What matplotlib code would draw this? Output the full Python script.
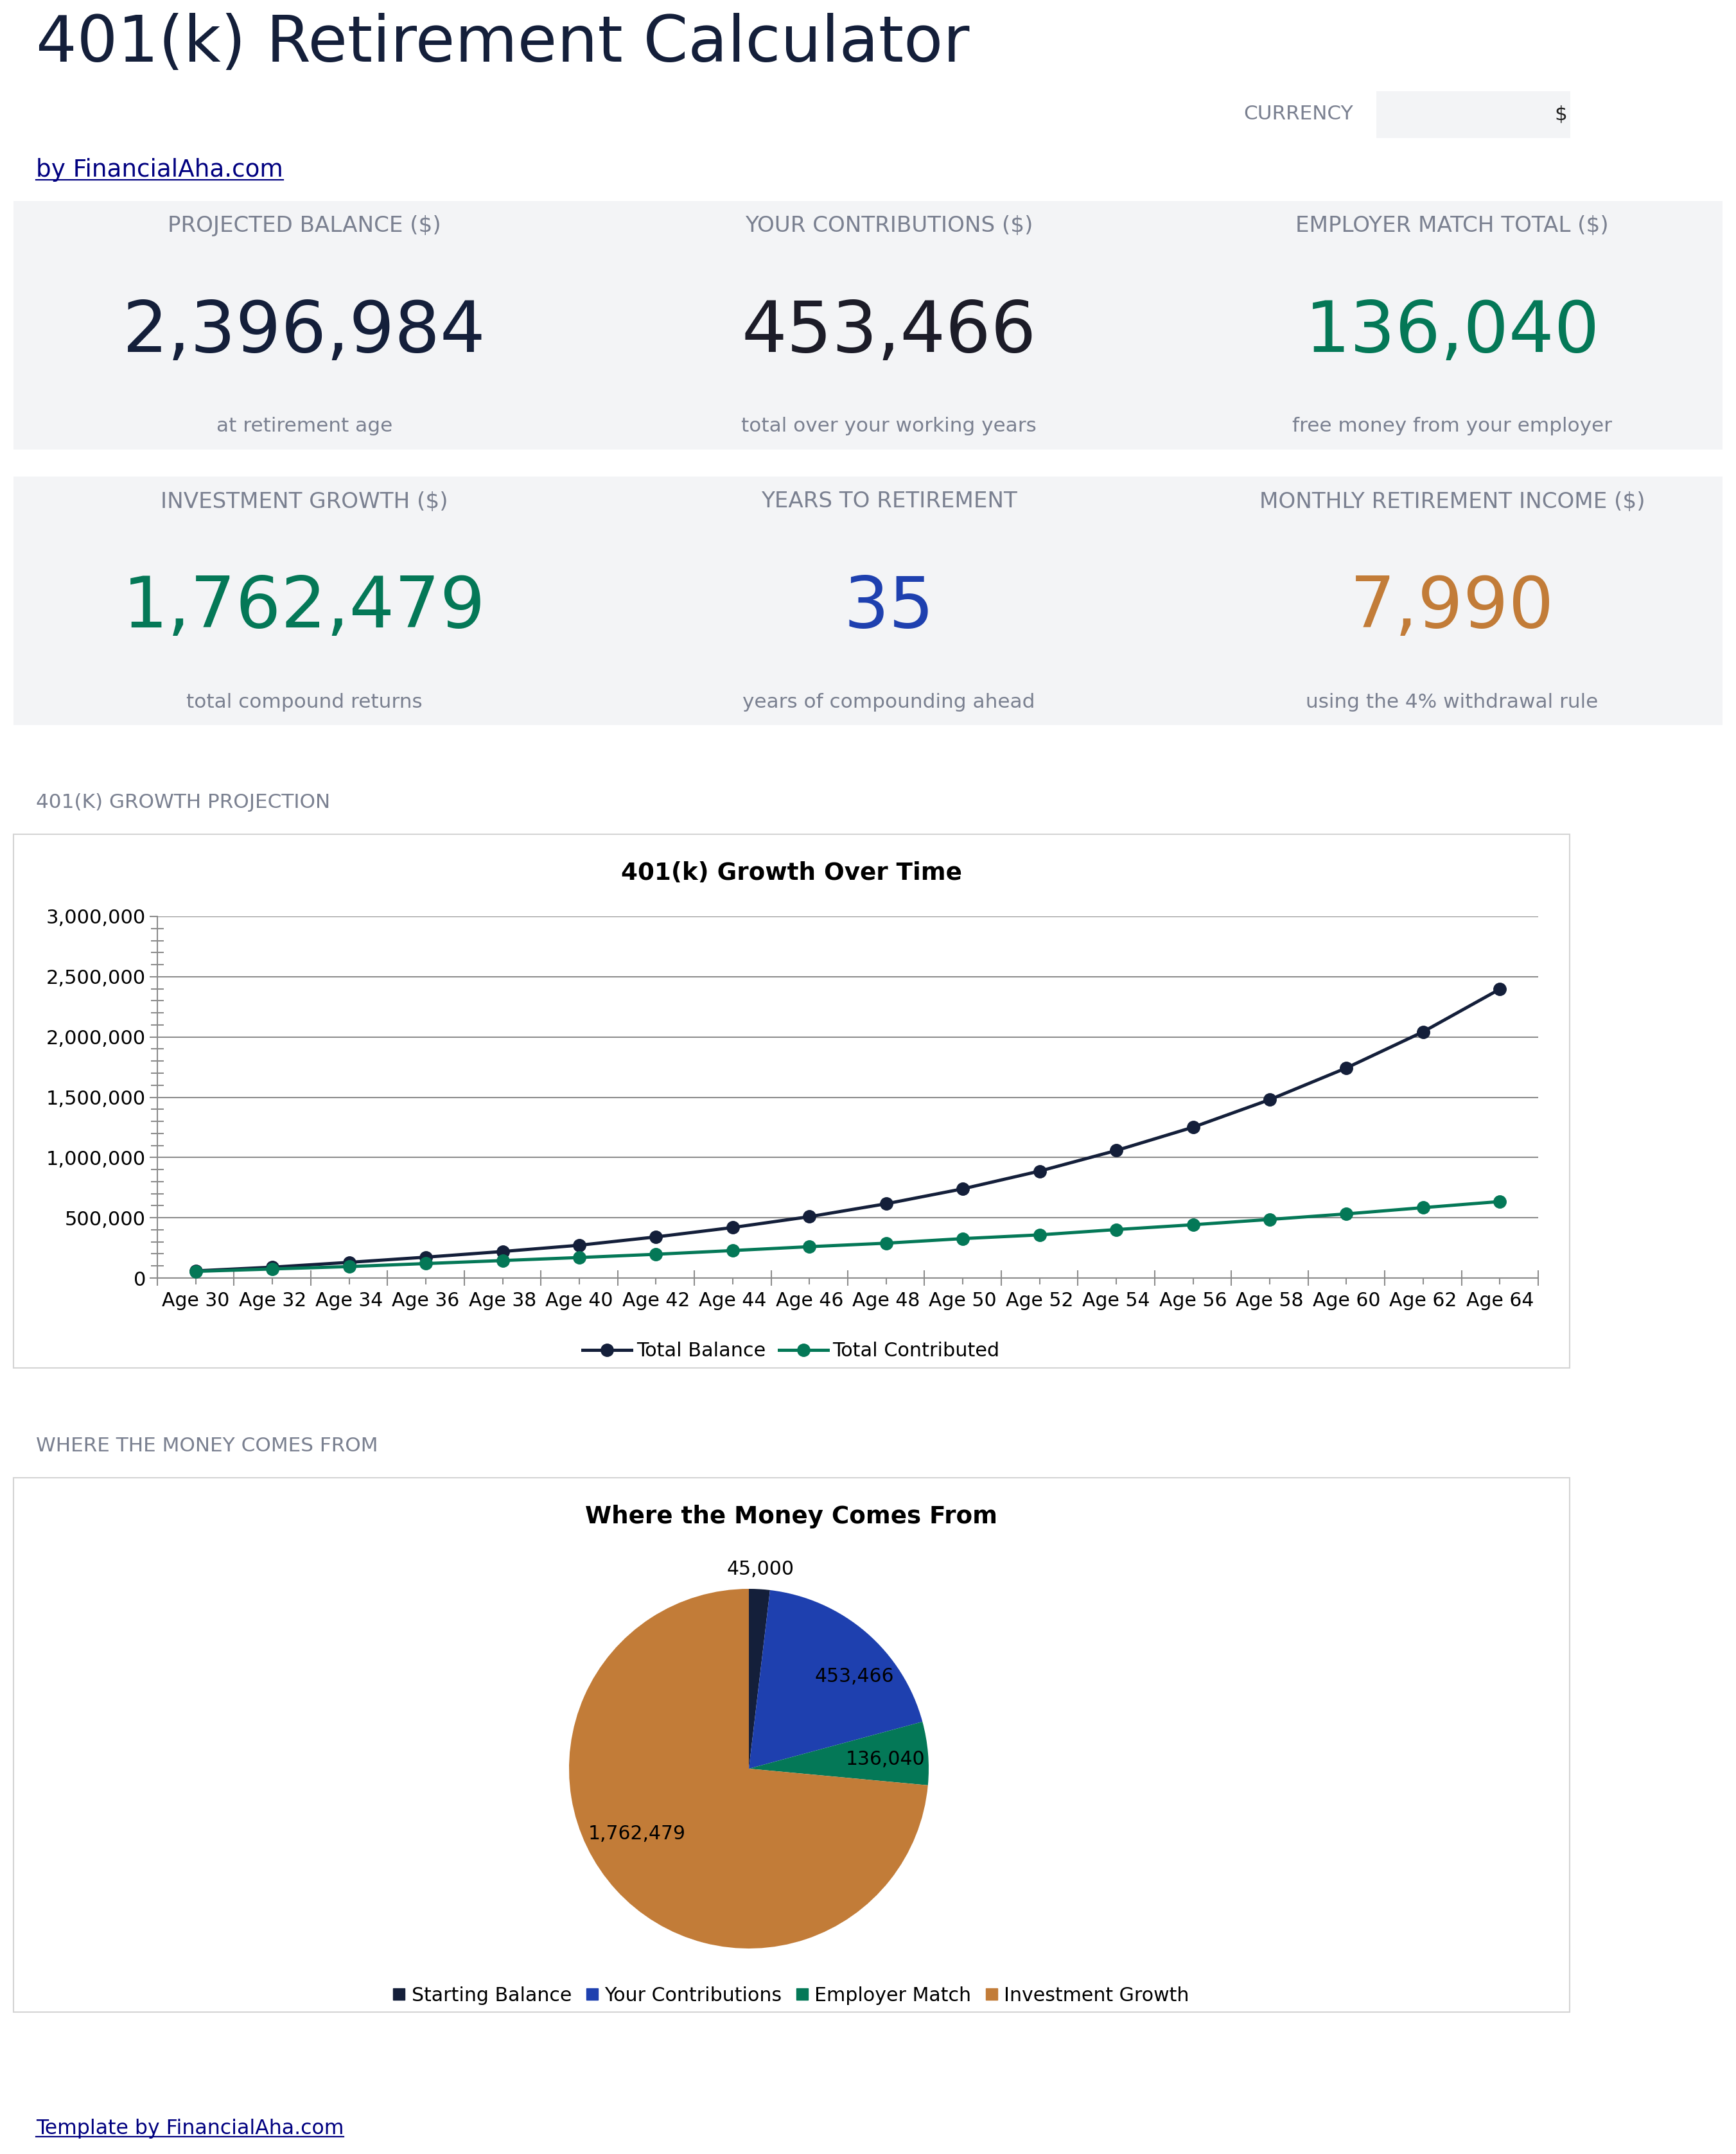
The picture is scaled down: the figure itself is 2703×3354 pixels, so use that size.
import numpy as np
import matplotlib.pyplot as plt
from matplotlib.lines import Line2D
from matplotlib.patches import Rectangle
from matplotlib.ticker import FuncFormatter, MultipleLocator

# ---- data ----
ages = ["Age 30", "Age 32", "Age 34", "Age 36", "Age 38", "Age 40", "Age 42", "Age 44", "Age 46",
        "Age 48", "Age 50", "Age 52", "Age 54", "Age 56", "Age 58", "Age 60", "Age 62", "Age 64"]
total_balance = [59000, 90000, 130000, 173000, 220000, 272000, 341000, 419000, 509000,
                 616000, 740000, 887000, 1058000, 1251000, 1480000, 1743000, 2043000, 2396984]
total_contributed = [55000, 75000, 95000, 120000, 145000, 170000, 197000, 228000, 260000,
                     289000, 327000, 358000, 402000, 442000, 486000, 532000, 584000, 634506]

source_labels = ["Starting Balance", "Your Contributions", "Employer Match", "Investment Growth"]
source_values = [45000, 453466, 136040, 1762479]

card_titles = ["PROJECTED BALANCE ($)", "YOUR CONTRIBUTIONS ($)", "EMPLOYER MATCH TOTAL ($)",
               "INVESTMENT GROWTH ($)", "YEARS TO RETIREMENT", "MONTHLY RETIREMENT INCOME ($)"]
card_values = ["2,396,984", "453,466", "136,040", "1,762,479", "35", "7,990"]
card_notes = ["at retirement age", "total over your working years", "free money from your employer",
              "total compound returns", "years of compounding ahead", "using the 4% withdrawal rule"]

# ---- colours ----
navy = '#141f3a'
blue = '#1e40af'
green = '#047857'
orange = '#c27c38'
grey_txt = '#7a8090'
card_bg = '#f3f4f6'
axis_grey = '#8c8c8c'
link = '#000080'
card_colors = [navy, '#1c1c28', green, green, blue, orange]
pie_colors = [navy, blue, green, orange]

W, H = 2703, 3354
fig = plt.figure(figsize=(W / 100, H / 100), dpi=100)
fig.patch.set_facecolor('white')


def fx(x):
    return x / W


def fy(y):
    return 1 - y / H


def box(x0, y0, x1, y1, fc, ec='none', lw=0):
    fig.add_artist(Rectangle((fx(x0), fy(y1)), fx(x1 - x0), (y1 - y0) / H,
                             transform=fig.transFigure, facecolor=fc, edgecolor=ec,
                             linewidth=lw, zorder=0))


def underline(t, y):
    r = fig.canvas.get_renderer()
    bb = t.get_window_extent(r)
    fig.add_artist(Line2D([bb.x0 / W, bb.x1 / W], [fy(y), fy(y)], transform=fig.transFigure,
                          color=link, linewidth=1.6))


# header
fig.text(fx(56), fy(96), "401(k) Retirement Calculator", fontsize=72, color=navy, va='baseline')
fig.text(fx(2107), fy(178), "CURRENCY", fontsize=22.4, color=grey_txt, ha='right', va='center')
box(2143, 142, 2445, 215, card_bg)
fig.text(fx(2440), fy(178), "$", fontsize=22.4, color='#222222', ha='right', va='center')
t = fig.text(fx(56), fy(275), "by FinancialAha.com", fontsize=26.9, color=link, va='baseline')
underline(t, 280)

# KPI cards
col_x = [474, 1384, 2261]
rows = [(313, 700, 352, 548, 663), (742, 1129, 781, 977, 1093)]
for r, (top, bot, y_head, y_num, y_note) in enumerate(rows):
    box(21, top, 2682, bot, card_bg)
    for c in range(3):
        i = r * 3 + c
        fig.text(fx(col_x[c]), fy(y_head), card_titles[i], fontsize=24.6, color=grey_txt,
                 ha='center', va='center')
        fig.text(fx(col_x[c]), fy(y_num), card_values[i], fontsize=80, color=card_colors[i],
                 ha='center', va='baseline')
        fig.text(fx(col_x[c]), fy(y_note), card_notes[i], fontsize=22.4, color=grey_txt,
                 ha='center', va='center')

# ---- line chart ----
fig.text(fx(56), fy(1250), "401(K) GROWTH PROJECTION", fontsize=22.4, color=grey_txt, va='center')
box(21, 1299, 2444, 2130, 'white', ec='#d4d4d4', lw=1.5)
fig.text(fx(1232), fy(1360), "401(k) Growth Over Time", fontsize=26.8, fontweight='bold',
         ha='center', va='center')

ax = fig.add_axes([fx(245), fy(1990), (2395 - 245) / W, (1990 - 1427) / H])
x = np.arange(len(ages))
ax.plot(x, total_balance, color=navy, linewidth=3.6, marker='o', markersize=14,
        label='Total Balance', zorder=3)
ax.plot(x, total_contributed, color=green, linewidth=3.6, marker='o', markersize=14,
        label='Total Contributed', zorder=3)
ax.set_xlim(-0.5, len(ages) - 0.5)
ax.set_ylim(0, 3000000)
ax.set_xticks(np.arange(-0.5, len(ages), 1))
ax.set_xticklabels([])
ax.set_xticks(x, minor=True)
ax.set_xticklabels(ages, minor=True)
ax.yaxis.set_major_locator(MultipleLocator(500000))
ax.yaxis.set_minor_locator(MultipleLocator(100000))
ax.yaxis.set_major_formatter(FuncFormatter(lambda v, p: f"{int(v):,}"))
ax.tick_params(axis='x', which='major', direction='inout', length=17, width=1.5, color=axis_grey)
ax.tick_params(axis='x', which='minor', direction='out', length=7, width=1.5, color=axis_grey,
               labelsize=21.5, pad=8)
ax.tick_params(axis='y', which='major', direction='out', length=9, width=1.5, color=axis_grey,
               labelsize=22, pad=4)
ax.tick_params(axis='y', which='minor', direction='inout', length=14, width=1.5, color=axis_grey)
ax.grid(axis='y', which='major', color=axis_grey, linewidth=1.5)
ax.set_axisbelow(True)
for s in ['top', 'right']:
    ax.spines[s].set_visible(False)
for s in ['left', 'bottom']:
    ax.spines[s].set_color(axis_grey)
    ax.spines[s].set_linewidth(1.5)
ax.legend(loc='center', bbox_to_anchor=(fx(1232), fy(2104)), bbox_transform=fig.transFigure,
          ncol=2, frameon=False, fontsize=21.8, handlelength=2.5, handletextpad=0.25,
          columnspacing=0.7)

# ---- pie chart ----
fig.text(fx(56), fy(2251), "WHERE THE MONEY COMES FROM", fontsize=22.4, color=grey_txt, va='center')
box(21, 2301, 2444, 3133, 'white', ec='#d4d4d4', lw=1.5)
fig.text(fx(1232), fy(2362), "Where the Money Comes From", fontsize=26.8, fontweight='bold',
         ha='center', va='center')

R = 280
cx, cy = 1166, 2754
pax = fig.add_axes([fx(cx - R), fy(cy + R), 2 * R / W, 2 * R / H])
wedges, _ = pax.pie(source_values, colors=pie_colors, startangle=90, counterclock=False,
                    radius=1, wedgeprops=dict(linewidth=0))
pax.set_xlim(-1, 1)
pax.set_ylim(-1, 1)
pax.set_aspect('equal')
label_r = [1.11, 0.78, 0.76, 0.72]
label_shift = [0, -8, -1, -12]
for w, v, rr, sh in zip(wedges, source_values, label_r, label_shift):
    th = np.radians((w.theta1 + w.theta2) / 2 + sh)
    pax.text(rr * np.cos(th), rr * np.sin(th), f"{v:,}", fontsize=21.5, ha='center', va='center',
             clip_on=False)

handles = [Line2D([], [], linestyle='none', marker='s', markersize=13, color=c) for c in pie_colors]
pax.legend(handles, source_labels, loc='center', bbox_to_anchor=(fx(1231), fy(3107)),
           bbox_transform=fig.transFigure, ncol=4, frameon=False, fontsize=21.6, handlelength=0.7,
           handletextpad=0.3, columnspacing=0.7)

t = fig.text(fx(56), fy(3323), "Template by FinancialAha.com", fontsize=22.7, color=link,
             va='baseline')
underline(t, 3327)

fig.savefig('out.png', dpi=100, facecolor='white')
